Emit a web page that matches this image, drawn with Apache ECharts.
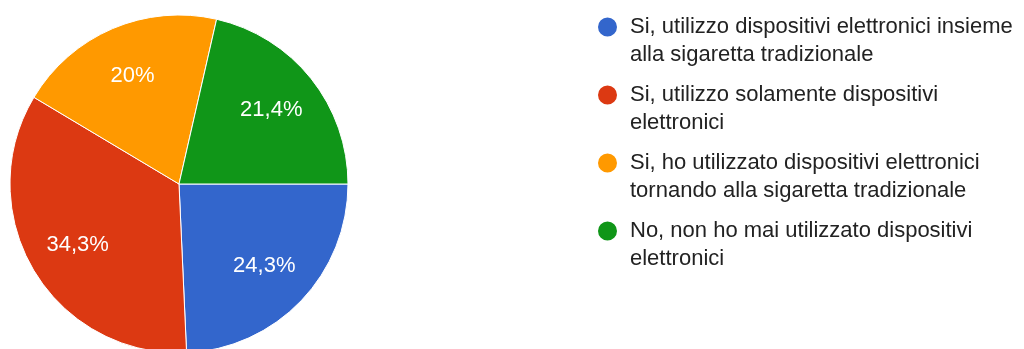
<!DOCTYPE html>
<html>
<head>
<meta charset="utf-8">
<script src="https://cdn.jsdelivr.net/npm/echarts@6/dist/echarts.min.js"></script>
<style>
  html, body { margin: 0; padding: 0; background: #ffffff; }
  #chart { width: 1024px; height: 349px; }
</style>
</head>
<body>
<div id="chart"></div>
<script>
// Risposte: uso di dispositivi elettronici rispetto alla sigaretta tradizionale
const categories = [
  'Si, utilizzo dispositivi elettronici insieme\nalla sigaretta tradizionale',
  'Si, utilizzo solamente dispositivi\nelettronici',
  'Si, ho utilizzato dispositivi elettronici\ntornando alla sigaretta tradizionale',
  'No, non ho mai utilizzato dispositivi\nelettronici'
];
const counts = [17, 24, 14, 15];
const colors = ['#3366cc', '#dc3912', '#ff9900', '#109618'];

const FONT = '"Liberation Sans", Arial, sans-serif';

const pieData = categories.map((name, i) => ({ name: name, value: counts[i] }));

function pctLabel(p) {
  let s = p.percent.toFixed(1);
  if (s.endsWith('.0')) s = s.slice(0, -2);
  return s.replace('.', ',') + '%';
}

const chart = echarts.init(document.getElementById('chart'), null, { renderer: 'canvas' });

chart.setOption({
  animation: false,
  color: colors,
  legend: {
    orient: 'vertical',
    left: 596,
    top: -15,
    padding: 0,
    itemGap: -16,
    itemWidth: 21,
    itemHeight: 21,
    icon: 'circle',
    selectedMode: false,
    data: categories,
    // a leading empty line keeps the marker level with the first text line
    formatter: name => '\n' + name,
    textStyle: {
      fontFamily: FONT,
      fontSize: 22,
      lineHeight: 28,
      color: '#222222',
      padding: [0, 0, 0, 7]
    }
  },
  series: [
    {
      type: 'pie',
      center: [179, 184],
      radius: [0, 169],
      startAngle: 0,
      clockwise: true,
      data: pieData,
      label: { show: false },
      labelLine: { show: false },
      itemStyle: { borderColor: '#ffffff', borderWidth: 1 },
      emphasis: { disabled: true }
    },
    {
      // transparent ring that carries the percentage labels
      type: 'pie',
      center: [179, 184],
      radius: [61, 169],
      startAngle: 0,
      clockwise: true,
      silent: true,
      data: pieData,
      itemStyle: { color: 'rgba(0,0,0,0)' },
      labelLine: { show: false },
      label: {
        show: true,
        position: 'inside',
        formatter: pctLabel,
        fontFamily: FONT,
        fontSize: 22,
        color: '#ffffff'
      },
      emphasis: { disabled: true }
    }
  ]
});
</script>
</body>
</html>
